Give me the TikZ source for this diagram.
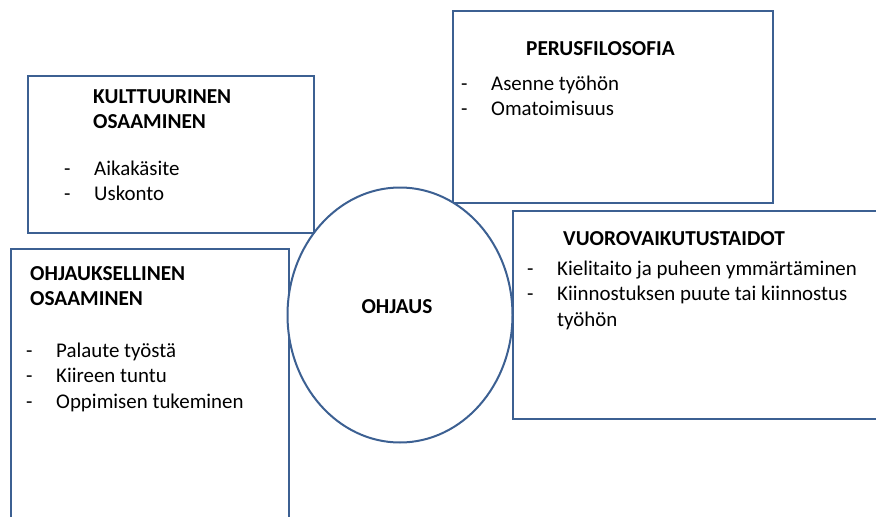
\documentclass[tikz,border=0pt]{standalone}
\usepackage{fontspec}
\setmainfont{Carlito}
\usepackage{tikz}
\usetikzlibrary{shapes.geometric, positioning}
\definecolor{myblue}{RGB}{60,96,146}
\tikzset{
  box/.style={rectangle, draw=myblue, line width=2pt, fill=white,
    anchor=north west, inner sep=0pt},
  hub/.style={ellipse, draw=myblue, line width=2pt, fill=white,
    minimum width=225pt, minimum height=255pt, inner sep=0pt},
  title/.style={anchor=base west, inner sep=0pt,
    font=\bfseries\fontsize{21.3}{25.8}\selectfont},
  items/.style={anchor=base west, inner sep=0pt,
    font=\fontsize{20.9}{25.8}\selectfont}
}

\begin{document}
\begin{tikzpicture}[x=1pt, y=-1pt]
  \clip (0,0) rectangle (876,517);

  % Four boxes
  \node[box, minimum width=320pt, minimum height=192pt] (perbox) at (452,10) {};
  \node[box, minimum width=286pt, minimum height=157pt] (kultbox) at (27,75) {};
  \node[box, minimum width=388pt, minimum height=208pt] (vuorobox) at (512,210) {};
  \node[box, minimum width=278pt, minimum height=282pt] (ohjbox) at (10,248) {};

  % Centre ellipse
  \node[hub] (hub) at (400,315) {};
  \node[title, anchor=base] (hubtxt) at (397,313) {OHJAUS};

  % Box texts
  \node[title] (pertitle) at (526,55) {PERUSFILOSOFIA};
  \node[items] (peritems) at (461,90) {\begin{tabular}[t]{@{}p{30pt}@{}l@{}}
    - & Asenne työhön\\
    - & Omatoimisuus
  \end{tabular}};

  \node[title] (kulttitle) at (93,103) {\begin{tabular}[t]{@{}l@{}}
    KULTTUURINEN\\ OSAAMINEN
  \end{tabular}};
  \node[items] (kultitems) at (64,175) {\begin{tabular}[t]{@{}p{30pt}@{}l@{}}
    - & Aikakäsite\\
    - & Uskonto
  \end{tabular}};

  \node[title] (vuorotitle) at (563,245) {VUOROVAIKUTUSTAIDOT};
  \node[items] (vuoroitems) at (527,275) {\begin{tabular}[t]{@{}p{30pt}@{}l@{}}
    - & Kielitaito ja puheen ymmärtäminen\\
    - & Kiinnostuksen puute tai kiinnostus\\
      & työhön
  \end{tabular}};

  \node[title] (ohjtitle) at (30,280) {\begin{tabular}[t]{@{}l@{}}
    OHJAUKSELLINEN\\ OSAAMINEN
  \end{tabular}};
  \node[items] (ohjitems) at (26,357) {\begin{tabular}[t]{@{}p{30pt}@{}l@{}}
    - & Palaute työstä\\
    - & Kiireen tuntu\\
    - & Oppimisen tukeminen
  \end{tabular}};
\end{tikzpicture}
\end{document}
